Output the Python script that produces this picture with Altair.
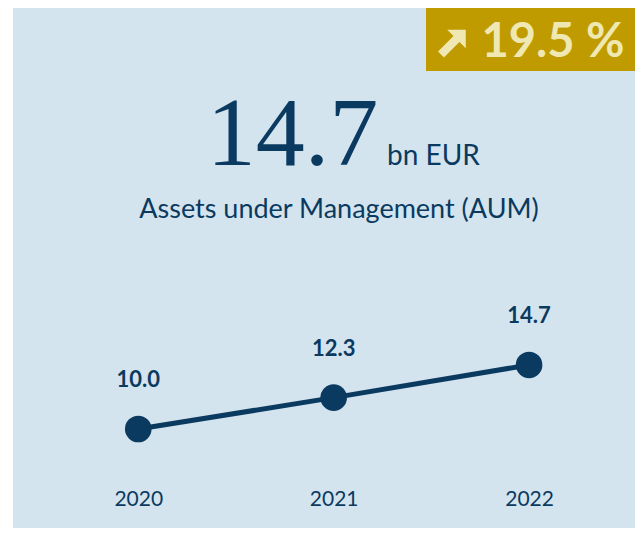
import altair as alt
import pandas as pd

# ---- data ----
years = [2020, 2021, 2022]
aum = [10.0, 12.3, 14.7]
unit_text = ["bn EUR"]
subtitle_text = ["Assets under Management (AUM)"]

growth = (aum[-1] / aum[-2] - 1) * 100
headline_text = [f"{aum[-1]:.1f}"]
badge_text = [f"{growth:.1f} %"]

NAVY = "#0b3a60"
BG = "#d4e4ef"
GOLD = "#bf9b00"
PALE = "#efe8b3"
SANS = "Lato"

W, H = 622, 520

df = pd.DataFrame({"year": years, "aum": aum, "label": [f"{v:.1f}" for v in aum]})

x = alt.X(
    "year:Q",
    scale=alt.Scale(domain=[2019.359, 2022.542], nice=False, zero=False),
    axis=alt.Axis(values=years, format="d", title=None, domain=False, ticks=False,
                  tickSize=0, grid=False, labelPadding=0, offset=-40,
                  labelFont=SANS, labelFontSize=21, labelColor=NAVY),
)
y = alt.Y("aum:Q", scale=alt.Scale(domain=[2.736, 40.89], nice=False, zero=False), axis=None)

base = alt.Chart(df)
line = base.mark_line(color=NAVY, strokeWidth=5).encode(x=x, y=y)
pts = base.mark_point(filled=True, opacity=1, color=NAVY, size=707, shape="circle").encode(x=x, y=y)
lbls = base.mark_text(font=SANS, fontSize=22, fontWeight="bold", color=NAVY,
                      align="center", baseline="alphabetic", dy=-42).encode(x=x, y=y, text="label:N")

badge_rect = alt.Chart(pd.DataFrame({"t": [0]})).mark_rect(color=GOLD).encode(
    x=alt.value(413), x2=alt.value(W), y=alt.value(0), y2=alt.value(63))

arrow_path = ("M1,-1 L1,0.35 L0.537,-0.113 L-0.588,1.012 L-1.012,0.588 "
              "L0.113,-0.537 L-0.35,-1 Z")
badge_arrow = alt.Chart(pd.DataFrame({"t": [0]})).mark_point(
    shape=arrow_path, filled=True, opacity=1, color=PALE, size=760).encode(
    x=alt.value(439), y=alt.value(35.5))

badge_lbl = alt.Chart(pd.DataFrame({"t": badge_text})).mark_text(
    font=SANS, fontSize=47, fontWeight="bold", color=PALE, align="center",
    baseline="alphabetic").encode(x=alt.value(540), y=alt.value(49), text="t:N")

head = alt.Chart(pd.DataFrame({"t": headline_text})).mark_text(
    font="Liberation Serif", fontSize=98, color=NAVY, align="center",
    baseline="alphabetic").encode(x=alt.value(279.5), y=alt.value(157), text="t:N")

unit = alt.Chart(pd.DataFrame({"t": unit_text})).mark_text(
    font=SANS, fontSize=28, color=NAVY, align="left",
    baseline="alphabetic").encode(x=alt.value(374), y=alt.value(157), text="t:N")

sub = alt.Chart(pd.DataFrame({"t": subtitle_text})).mark_text(
    font=SANS, fontSize=27, color=NAVY, align="center",
    baseline="alphabetic").encode(x=alt.value(326), y=alt.value(210), text="t:N")

chart = alt.layer(badge_rect, badge_arrow, badge_lbl, head, unit, sub, line, pts, lbls).properties(
    width=W, height=H,
    autosize=alt.AutoSizeParams(type="none"),
    padding={"left": 5, "top": 0, "right": 0, "bottom": 0},
    background="white",
).configure_view(fill=BG, strokeWidth=0)

chart.save("out.html", embed_options={"renderer": "svg", "actions": False})
